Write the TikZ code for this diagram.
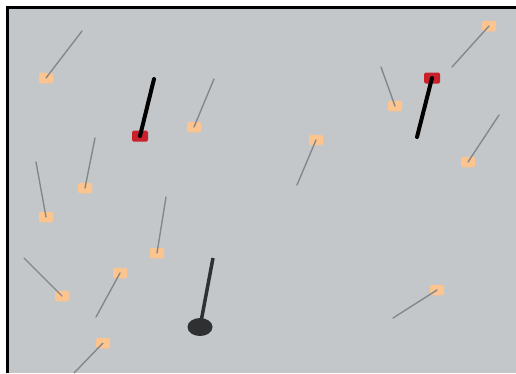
\documentclass[tikz,border=0pt]{standalone}
\usetikzlibrary{shapes.geometric}
\definecolor{bg}{HTML}{C4C7C9}
\definecolor{peach}{HTML}{FCC48F}
\definecolor{redsq}{HTML}{C9202B}
\definecolor{stick}{HTML}{858789}
\definecolor{darkpin}{HTML}{2E3031}
\tikzset{
  pad/.style={fill=peach, draw=none, minimum width=14pt, minimum height=10.5pt, inner sep=0pt, rounded corners=1.5pt},
  redpad/.style={fill=redsq, draw=none, minimum width=16pt, minimum height=11pt, inner sep=0pt, rounded corners=1.5pt},
  thin stick/.style={draw=stick, line width=1.4pt, line cap=round},
  thick stick/.style={draw=black, line width=4pt, line cap=round},
  pin stick/.style={draw=darkpin, line width=3.5pt},
  pin base/.style={ellipse, fill=darkpin, draw=none, minimum width=25pt, minimum height=18pt, inner sep=0pt},
}
\begin{document}
\begin{tikzpicture}[x=1pt,y=-1pt]
\useasboundingbox (0,0) rectangle (516,373);
\fill[white] (0,0) rectangle (516,373);
\fill[bg] (7,7) rectangle (516,373);
\draw[black, line width=3pt] (7,373) -- (7,7) -- (516,7);
% pads
\node[pad] (p1) at (46,78) {};
\node[pad] (p3) at (194,127) {};
\node[pad] (p4) at (85,188) {};
\node[pad] (p5) at (46,217) {};
\node[pad] (p6) at (157,253) {};
\node[pad] (p7) at (120,273) {};
\node[pad] (p8) at (62,296) {};
\node[pad] (p9) at (103,343) {};
\node[pad] (p11) at (316,140) {};
\node[pad] (p12) at (395,106) {};
\node[pad] (p14) at (489,26) {};
\node[pad] (p15) at (468,162) {};
\node[pad] (p16) at (437,290) {};
\node[redpad] (r1) at (140,136) {};
\node[redpad] (r2) at (432,78) {};
\node[pin base] (b1) at (200,327) {};
% free ends
\coordinate (e1) at (82,31);
\coordinate (e3) at (214,79);
\coordinate (e4) at (95,138);
\coordinate (e5) at (36,162);
\coordinate (e6) at (166,197);
\coordinate (e7) at (96,317);
\coordinate (e8) at (24,258);
\coordinate (e9) at (74,373);
\coordinate (e11) at (297,185);
\coordinate (e12) at (381,67);
\coordinate (e14) at (452,67);
\coordinate (e15) at (499,115);
\coordinate (e16) at (393,318);
\coordinate (er1) at (154,79);
\coordinate (er2) at (417,137);
\coordinate (eb1) at (213,258);
% sticks
\foreach \n in {1,3,4,5,6,7,8,11,12,14,15,16}
  \draw[thin stick] (p\n.center) -- (e\n);
\draw[thin stick, line cap=butt] (p9.center) -- (e9);
\draw[thick stick] (r1.center) -- (er1);
\draw[thick stick] (r2.center) -- (er2);
\draw[pin stick] (b1.center) -- (eb1);
\end{tikzpicture}
\end{document}
